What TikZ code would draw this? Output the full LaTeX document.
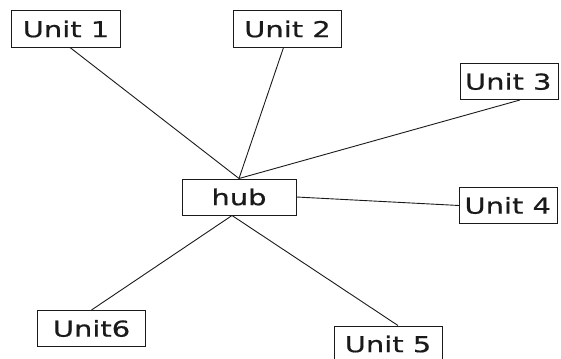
\documentclass[tikz,border=0pt]{standalone}
\usepackage{fontspec}
\newfontfamily\unitfont{DejaVu Sans}[FakeStretch=1.32,FakeBold=0.6]
\usetikzlibrary{positioning}
\definecolor{ink}{HTML}{1A1A1A}
\newcommand{\overrun}[1]{\makebox[88bp][l]{#1}}
\tikzset{
  x=1bp,y=1bp,
  every node/.style={text=ink},
  box/.style={draw=ink,line width=1bp,minimum width=108bp,minimum height=36bp,inner xsep=8bp,inner ysep=0pt,font=\unitfont\fontsize{22}{24}\selectfont},
  edgebox/.style={box,minimum width=98bp,inner xsep=5bp},
  hubbox/.style={box,minimum width=114bp},
  link/.style={draw=ink,line width=0.9bp},
}
\begin{document}
\begin{tikzpicture}
\useasboundingbox (0,0) rectangle (561,358);
\clip (0,0) rectangle (561,358);

% centre
\node[hubbox] (hub) at (239,161) {hub};

% units round the hub
\node[box] (u1) at (66,329) {Unit 1};
\node[box] (u2) at (287.5,329) {Unit 2};
\node[edgebox] (u3) at (509,276.5) {\overrun{Unit 3}};
\node[edgebox] (u4) at (508.5,152.5) {\overrun{Unit 4}};
\node[box] (u5) at (388,14) {Unit 5};
\node[box] (u6) at (91.5,29.5) {Unit6};

% links
\draw[link] ([xshift=4pt]u1.south) -- (hub.north);
\draw[link] ([xshift=-4pt]u2.south) -- (hub.north);
\draw[link] ([xshift=11pt]u3.south) -- (hub.north);
\draw[link] (hub.east) -- (u4.west);
\draw[link] ([xshift=-7pt]hub.south) -- (u6.north);
\draw[link] ([xshift=-7pt]hub.south) -- ([xshift=10pt]u5.north);

\end{tikzpicture}
\end{document}
